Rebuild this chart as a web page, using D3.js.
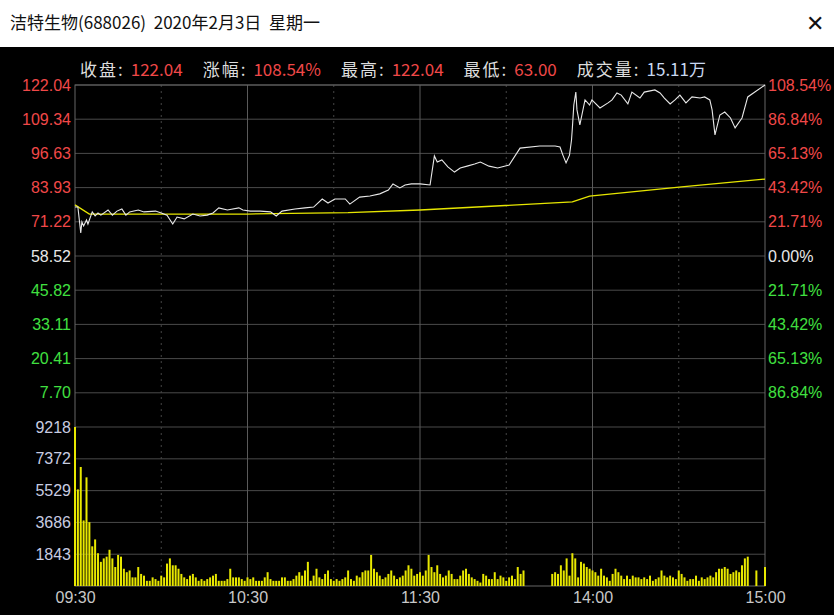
<!DOCTYPE html>
<html><head><meta charset="utf-8">
<script src="https://cdn.jsdelivr.net/npm/d3@7"></script>
<style>
body{margin:0;background:#000;font-family:"Noto Sans CJK SC","Liberation Sans",sans-serif}
.axis path,.axis line{display:none}
</style></head><body>
<svg id="chart" width="834" height="615"></svg>
<script>
// price line: minute index from 09:30, price
const priceMinutes = [0,1,2,2.4,3,4,4.5,6,7,8,9,11.5,13,14.6,16.3,17.7,19,22,24,28,30,32,34,35.5,38,41,43.5,46,48,50,53,57,58.4,61,64.4,68,70,72,76.5,80,83,86,88,90.4,94,95.6,99,102.6,106,109,110.6,113,114.8,117,120,
  123.5,125,126,127.6,129.7,132,134,136.7,139,141,144,147,151,154.8,161.7,167,168.7,169.7,170.8,172,172.7,173,173.5,174.2,174.6,175.6,177.4,179,179.8,182.6,185.4,186.8,188.5,190,192.3,193.7,196.5,198,201.7,203.5,205,207,208.7,210.4,212.5,214.6,217.4,219,220.8,221.6,222.6,224.3,226,228,229.6,232,234,240];
const prices = [76.7,76.7,67.1,71.2,69.7,71.9,70.4,74.9,73.4,74.5,73.7,75.6,73.7,75.2,76.0,73.7,74.9,75.6,74.9,75.2,74.5,73.7,70.4,73.0,72.3,74.1,73.4,73.7,74.5,76.4,75.6,76.4,75.6,75.2,75.2,74.9,73.4,75.2,76.0,76.4,76.7,79.7,78.2,79.7,79.7,77.8,80.4,80.8,81.6,83.0,85.3,83.8,84.9,85.3,85.3,
  84.9,95.7,93.4,94.2,91.6,89.7,91.2,92.0,92.7,93.4,91.9,91.2,92.3,98.6,99.4,99.4,99.0,96.0,93.1,96.0,101.6,106.1,114.6,119.4,112.8,107.2,116.5,114.6,116.5,113.5,115.4,116.5,119.1,118.3,115.0,119.4,117.2,119.4,120.2,119.1,117.2,115.0,116.5,118.3,115.4,117.6,117.2,117.6,116.5,112.8,103.5,110.9,112.0,109.8,106.1,109.8,117.6,122.04,122.04];
const avgMinutes = [0,5,60,95,120,173,179,211,240];
const avgPrices = [77.5,74.1,74.1,74.6,75.6,78.6,80.8,84.2,87.1];
const volumes = [
  9218,5600,6900,3800,6300,3700,2300,2700,1900,1400,1600,1700,2100,1600,1100,1800,1700,1000,800,900,500,500,1100,700,600,300,300,500,400,300,
  600,500,1300,1600,1200,1200,1000,700,500,400,600,700,500,300,400,300,400,500,600,700,300,300,300,400,1000,500,500,500,400,300,
  500,400,500,300,300,300,500,800,400,300,300,300,500,500,300,300,400,600,800,600,900,1400,300,600,1000,500,400,700,900,400,
  300,400,300,400,500,900,400,300,600,500,800,900,900,1800,1000,800,600,400,500,700,900,600,400,500,600,900,1200,1000,600,700,
  800,600,900,1800,1100,800,1200,700,500,600,900,700,400,400,600,900,1000,700,500,400,300,200,700,600,400,400,800,400,600,500,
  300,500,600,400,1100,700,900,0,0,0,0,0,0,0,0,0,700,800,700,1200,900,1600,600,1900,1600,500,1400,1300,1100,1000,
  900,800,600,1000,600,500,300,700,1000,800,600,400,600,400,600,500,500,400,500,400,600,300,400,500,900,600,500,600,500,400,
  900,700,500,300,400,400,600,300,500,400,500,600,500,800,1000,1000,1100,1000,700,800,900,800,1200,1600,1700,0,0,900,0,0,1100];
const priceTicks = [122.04,109.34,96.63,83.93,71.22,58.52,45.82,33.11,20.41,7.70];
const pctTicks = ["108.54%","86.84%","65.13%","43.42%","21.71%","0.00%","21.71%","43.42%","65.13%","86.84%"];
const volTicks = [9218,7372,5529,3686,1843];
const timeTicks = [0,60,120,180,240];
const timeLabels = ["09:30","10:30","11:30","14:00","15:00"];
const infoLabels = ["收盘:","涨幅:","最高:","最低:","成交量:"];
const infoValues = ["122.04","108.54%","122.04","63.00","15.11万"];

const svg = d3.select("#chart");
const left = 75, right = 765, pTop = 85, pBot = 427, vBot = 586;
const x = d3.scaleLinear().domain([0,240]).range([left,right]);
const y = d3.scaleLinear().domain([122.04 - 10*12.704, 122.04]).range([pBot,pTop]);
const yv = d3.scaleLinear().domain([0, 9218]).range([vBot,pBot]);
const red = "#f04848", green = "#40e040", grid = "#4a4a4a";

// header
svg.append("rect").attr("width",834).attr("height",47).attr("fill","#fff");
svg.append("text").attr("x",10).attr("y",29).attr("font-size",17).attr("fill","#111")
  .attr("xml:space","preserve").text("洁特生物(688026)  2020年2月3日  星期一");
svg.append("text").attr("x",806).attr("y",31).attr("font-size",22).attr("fill","#111").text("✕");

// info row
let ix = 80;
const info = svg.append("g").attr("font-size",17);
infoLabels.forEach((l,i) => {
  const a = info.append("text").attr("x",ix).attr("y",76).attr("fill","#ddd").attr("letter-spacing",2).text(l);
  ix += a.node().getComputedTextLength() + 6;
  const b = info.append("text").attr("x",ix).attr("y",76).attr("fill", i==4 ? "#c8d8f0" : red).text(infoValues[i]);
  ix += b.node().getComputedTextLength() + 20;
});

// grid
const g = svg.append("g");
priceTicks.forEach(t => g.append("line").attr("x1",left).attr("x2",right).attr("y1",y(t)).attr("y2",y(t)).attr("stroke",grid));
volTicks.forEach(t => g.append("line").attr("x1",left).attr("x2",right).attr("y1",yv(t)).attr("y2",yv(t)).attr("stroke",grid));
d3.range(30,240,30).forEach(m => {
  const solid = m==60||m==120||m==180;
  g.append("line").attr("x1",x(m)).attr("x2",x(m)).attr("y1",pTop).attr("y2",vBot)
    .attr("stroke", solid ? "#5a5a5a" : "#444").attr("stroke-dasharray", solid ? null : "2,4");
});
g.append("rect").attr("x",left).attr("y",pTop).attr("width",right-left).attr("height",vBot-pTop)
  .attr("fill","none").attr("stroke","#666");

// volume bars
svg.append("g").selectAll("rect").data(volumes).join("rect")
  .attr("x",(d,i)=>x(i)-1).attr("width",2)
  .attr("y",d=>yv(d)).attr("height",d=>vBot-yv(d)).attr("fill","#e8e800");

// lines
svg.append("path").datum(avgMinutes.map((m,i)=>[m,avgPrices[i]]))
  .attr("d",d3.line().x(d=>x(d[0])).y(d=>y(d[1]))).attr("fill","none").attr("stroke","#e6e600").attr("stroke-width",1.3);
svg.append("path").datum(priceMinutes.map((m,i)=>[m,prices[i]]))
  .attr("d",d3.line().x(d=>x(d[0])).y(d=>y(d[1]))).attr("fill","none").attr("stroke","#e8e8e8").attr("stroke-width",1.1);

// axes
const col = i => i<5 ? red : (i==5 ? "#e8e8e8" : green);
const ax = svg.append("g").attr("class","axis").attr("transform",`translate(${left},0)`)
  .call(d3.axisLeft(y).tickValues(priceTicks).tickSize(0).tickPadding(4).tickFormat(d3.format(".2f")));
ax.selectAll("text").attr("fill",(d,i)=>col(i));
const axr = svg.append("g").attr("class","axis").attr("transform",`translate(${right},0)`)
  .call(d3.axisRight(y).tickValues(priceTicks).tickSize(0).tickPadding(3).tickFormat((d,i)=>pctTicks[i]));
axr.selectAll("text").attr("fill",(d,i)=>col(i));
svg.append("g").attr("class","axis").attr("transform",`translate(${left},0)`)
  .call(d3.axisLeft(yv).tickValues(volTicks).tickSize(0).tickPadding(4).tickFormat(d3.format("d")))
  .selectAll("text").attr("fill","#c8cce0");
svg.append("g").attr("class","axis").attr("transform",`translate(0,${vBot})`)
  .call(d3.axisBottom(x).tickValues(timeTicks).tickSize(0).tickPadding(6).tickFormat((d,i)=>timeLabels[i]))
  .selectAll("text").attr("fill","#c8c8c8");
svg.selectAll(".axis text").attr("font-size",16).attr("font-family","Liberation Sans, Arial, sans-serif");
</script></body></html>
